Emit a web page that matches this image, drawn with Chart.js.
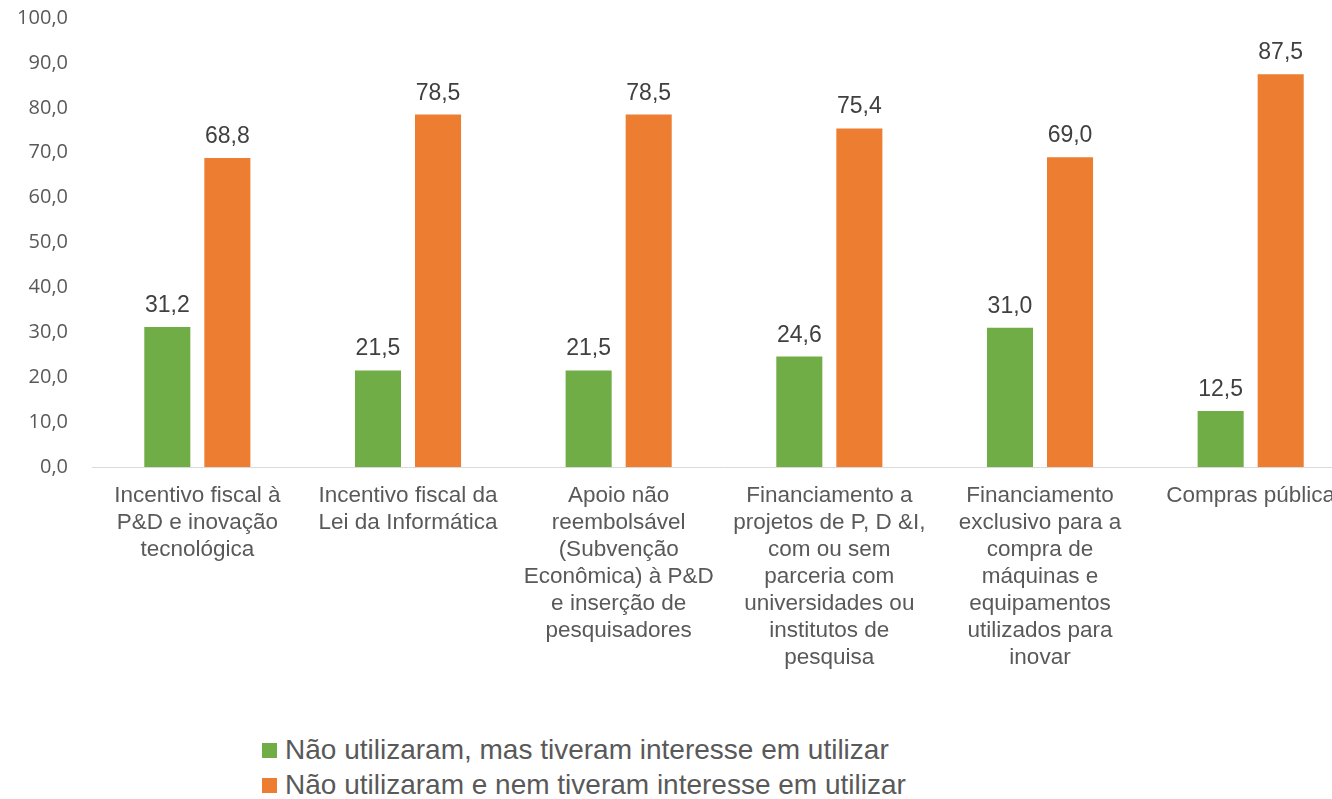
<!DOCTYPE html>
<html lang="pt-BR">
<head>
  <meta charset="UTF-8" />
  <title>Instrumentos de apoio à inovação</title>
  <script src="https://cdn.jsdelivr.net/npm/chart.js"></script>
  <style>
    body {
      margin: 0;
      background: #fff;
      overflow: hidden;
      font-family: "Liberation Sans", Arial, sans-serif;
    }
    .wrap {
      position: relative;
      width: 1360px;
      height: 677px;
    }
    .legend {
      position: absolute;
      left: 262px;
      top: 732px;
      font-size: 28px;
      line-height: 35px;
      color: #595959;
    }
    .legend span {
      display: inline-block;
      width: 15px;
      height: 15px;
      margin-right: 8px;
      vertical-align: 1px;
    }
  </style>
</head>
<body>
  <div class="wrap">
    <canvas id="grafico"></canvas>
  </div>
  <div class="legend" id="legenda"></div>

  <script>
    const categorias = [
      ["Incentivo fiscal à", "P&D e inovação", "tecnológica"],
      ["Incentivo fiscal da", "Lei da Informática"],
      ["Apoio não", "reembolsável", "(Subvenção", "Econômica) à P&D", "e inserção de", "pesquisadores"],
      ["Financiamento a", "projetos de P, D &I,", "com ou sem", "parceria com", "universidades ou", "institutos de", "pesquisa"],
      ["Financiamento", "exclusivo para a", "compra de", "máquinas e", "equipamentos", "utilizados para", "inovar"],
      ["Compras pública"]
    ];
    const comInteresse = [31.2, 21.5, 21.5, 24.6, 31.0, 12.5];
    const semInteresse = [68.8, 78.5, 78.5, 75.4, 69.0, 87.5];
    const series = [
      "Não utilizaram, mas tiveram interesse em utilizar",
      "Não utilizaram e nem tiveram interesse em utilizar"
    ];
    const cores = ["#70AD47", "#ED7D31"];

    const fmt = v => v.toFixed(1).replace(".", ",");

    // valores em cima de cada barra
    const rotulos = {
      id: "rotulos",
      afterDatasetsDraw(chart) {
        const ctx = chart.ctx;
        ctx.save();
        ctx.font = "23px 'Liberation Sans', Arial, sans-serif";
        ctx.fillStyle = "#404040";
        ctx.textAlign = "center";
        ctx.textBaseline = "alphabetic";
        chart.data.datasets.forEach((ds, i) => {
          chart.getDatasetMeta(i).data.forEach((bar, j) => {
            ctx.fillText(fmt(ds.data[j]), bar.x, bar.y - 15);
          });
        });
        ctx.restore();
      }
    };

    const chart = new Chart(document.getElementById("grafico"), {
      type: "bar",
      data: {
        labels: categorias,
        datasets: [
          { label: series[0], data: comInteresse, backgroundColor: cores[0] },
          { label: series[1], data: semInteresse, backgroundColor: cores[1] }
        ]
      },
      options: {
        responsive: true,
        maintainAspectRatio: false,
        animation: false,
        categoryPercentage: 0.57,
        barPercentage: 0.767,
        layout: { padding: { top: 18, right: 4 } },
        plugins: {
          legend: { display: false },
          tooltip: { enabled: false }
        },
        scales: {
          y: {
            min: 0,
            max: 100,
            ticks: {
              stepSize: 10,
              padding: 24,
              color: "#595959",
              font: { size: 20, family: "'Open Sans', sans-serif" },
              callback: v => fmt(v)
            },
            grid: { display: false, drawTicks: false },
            border: { display: false },
            afterFit: s => { s.width = 92; s.paddingTop = 0; s.paddingBottom = 0; }
          },
          x: {
            ticks: {
              padding: 15,
              color: "#595959",
              maxRotation: 0,
              autoSkip: false,
              font: { size: 22.5, lineHeight: 27 / 22.5, family: "'Liberation Sans', Arial, sans-serif" }
            },
            grid: { display: false, drawTicks: false },
            border: { display: true, color: "#d9d9d9", width: 1 },
            afterFit: s => { s.height = 210; s.paddingTop = 0; s.paddingLeft = 0; s.paddingRight = 0; }
          }
        }
      },
      plugins: [rotulos]
    });

    document.getElementById("legenda").innerHTML = series
      .map((s, i) => `<div><span style="background:${cores[i]}"></span>${s}</div>`)
      .join("");
  </script>
</body>
</html>
